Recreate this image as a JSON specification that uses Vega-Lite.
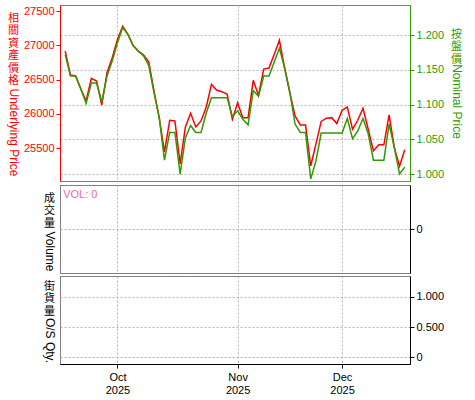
{
  "$schema": "https://vega.github.io/schema/vega-lite/v6.json",
  "padding": {"left": 6, "top": 4, "right": 5, "bottom": 2},
  "autosize": {"type": "pad"},
  "config": {
    "view": {"stroke": "black", "strokeDash": [1, 1], "strokeWidth": 1},
    "axis": {
      "labelFont": "Liberation Sans",
      "labelFontSize": 11,
      "titleFont": "Liberation Sans, 'Noto Sans CJK TC'",
      "titleFontSize": 12,
      "titleFontWeight": "normal",
      "gridColor": "#b4b4b4",
      "gridDash": [2, 2],
      "gridWidth": 1,
      "tickSize": 4,
      "labelPadding": 2,
      "labelColor": "black",
      "domainColor": "black",
      "tickColor": "black"
    }
  },
  "datasets": {
    "d": [
      {"date": "2025-09-17", "price": 26917, "nominal": 1.172, "vol": 0},
      {"date": "2025-09-18", "price": 26568, "nominal": 1.141, "vol": 0},
      {"date": "2025-09-19", "price": 26553, "nominal": 1.141, "vol": 0},
      {"date": "2025-09-22", "price": 26364, "nominal": 1.122, "vol": 0},
      {"date": "2025-09-23", "price": 26189, "nominal": 1.102, "vol": 0},
      {"date": "2025-09-24", "price": 26519, "nominal": 1.131, "vol": 0},
      {"date": "2025-09-25", "price": 26480, "nominal": 1.131, "vol": 0},
      {"date": "2025-09-26", "price": 26130, "nominal": 1.104, "vol": 0},
      {"date": "2025-09-29", "price": 26601, "nominal": 1.141, "vol": 0},
      {"date": "2025-09-30", "price": 26820, "nominal": 1.163, "vol": 0},
      {"date": "2025-10-01", "price": 27088, "nominal": 1.189, "vol": 0},
      {"date": "2025-10-02", "price": 27281, "nominal": 1.211, "vol": 0},
      {"date": "2025-10-03", "price": 27160, "nominal": 1.201, "vol": 0},
      {"date": "2025-10-06", "price": 26997, "nominal": 1.185, "vol": 0},
      {"date": "2025-10-07", "price": 26917, "nominal": 1.177, "vol": 0},
      {"date": "2025-10-08", "price": 26859, "nominal": 1.170, "vol": 0},
      {"date": "2025-10-09", "price": 26757, "nominal": 1.156, "vol": 0},
      {"date": "2025-10-10", "price": 26334, "nominal": 1.117, "vol": 0},
      {"date": "2025-10-13", "price": 25941, "nominal": 1.081, "vol": 0},
      {"date": "2025-10-14", "price": 25446, "nominal": 1.020, "vol": 0},
      {"date": "2025-10-15", "price": 25907, "nominal": 1.060, "vol": 0},
      {"date": "2025-10-16", "price": 25897, "nominal": 1.060, "vol": 0},
      {"date": "2025-10-17", "price": 25271, "nominal": 1.000, "vol": 0},
      {"date": "2025-10-20", "price": 25810, "nominal": 1.052, "vol": 0},
      {"date": "2025-10-21", "price": 26009, "nominal": 1.070, "vol": 0},
      {"date": "2025-10-22", "price": 25810, "nominal": 1.060, "vol": 0},
      {"date": "2025-10-23", "price": 25897, "nominal": 1.060, "vol": 0},
      {"date": "2025-10-24", "price": 26101, "nominal": 1.088, "vol": 0},
      {"date": "2025-10-27", "price": 26432, "nominal": 1.110, "vol": 0},
      {"date": "2025-10-28", "price": 26345, "nominal": 1.110, "vol": 0},
      {"date": "2025-10-29", "price": 26324, "nominal": 1.110, "vol": 0},
      {"date": "2025-10-30", "price": 26286, "nominal": 1.110, "vol": 0},
      {"date": "2025-10-31", "price": 25922, "nominal": 1.083, "vol": 0},
      {"date": "2025-11-03", "price": 26160, "nominal": 1.091, "vol": 0},
      {"date": "2025-11-04", "price": 25945, "nominal": 1.079, "vol": 0},
      {"date": "2025-11-05", "price": 25945, "nominal": 1.071, "vol": 0},
      {"date": "2025-11-06", "price": 26490, "nominal": 1.120, "vol": 0},
      {"date": "2025-11-07", "price": 26269, "nominal": 1.112, "vol": 0},
      {"date": "2025-11-10", "price": 26655, "nominal": 1.141, "vol": 0},
      {"date": "2025-11-11", "price": 26670, "nominal": 1.141, "vol": 0},
      {"date": "2025-11-12", "price": 26866, "nominal": 1.161, "vol": 0},
      {"date": "2025-11-13", "price": 27075, "nominal": 1.181, "vol": 0},
      {"date": "2025-11-14", "price": 26670, "nominal": 1.153, "vol": 0},
      {"date": "2025-11-17", "price": 26305, "nominal": 1.118, "vol": 0},
      {"date": "2025-11-18", "price": 25970, "nominal": 1.072, "vol": 0},
      {"date": "2025-11-19", "price": 25839, "nominal": 1.060, "vol": 0},
      {"date": "2025-11-20", "price": 25839, "nominal": 1.060, "vol": 0},
      {"date": "2025-11-21", "price": 25242, "nominal": 0.993, "vol": 0},
      {"date": "2025-11-24", "price": 25562, "nominal": 1.019, "vol": 0},
      {"date": "2025-11-25", "price": 25890, "nominal": 1.059, "vol": 0},
      {"date": "2025-11-26", "price": 25937, "nominal": 1.059, "vol": 0},
      {"date": "2025-11-27", "price": 25945, "nominal": 1.059, "vol": 0},
      {"date": "2025-11-28", "price": 25858, "nominal": 1.059, "vol": 0},
      {"date": "2025-12-01", "price": 26053, "nominal": 1.059, "vol": 0},
      {"date": "2025-12-02", "price": 26101, "nominal": 1.080, "vol": 0},
      {"date": "2025-12-03", "price": 25776, "nominal": 1.051, "vol": 0},
      {"date": "2025-12-04", "price": 25907, "nominal": 1.062, "vol": 0},
      {"date": "2025-12-05", "price": 26082, "nominal": 1.080, "vol": 0},
      {"date": "2025-12-08", "price": 25776, "nominal": 1.058, "vol": 0},
      {"date": "2025-12-09", "price": 25460, "nominal": 1.020, "vol": 0},
      {"date": "2025-12-10", "price": 25548, "nominal": 1.020, "vol": 0},
      {"date": "2025-12-11", "price": 25548, "nominal": 1.020, "vol": 0},
      {"date": "2025-12-12", "price": 25985, "nominal": 1.072, "vol": 0},
      {"date": "2025-12-15", "price": 25508, "nominal": 1.038, "vol": 0},
      {"date": "2025-12-16", "price": 25237, "nominal": 1.000, "vol": 0},
      {"date": "2025-12-17", "price": 25475, "nominal": 1.010, "vol": 0}
    ]
  },
  "spacing": 1,
  "resolve": {"scale": {"x": "independent", "y": "independent"}},
  "vconcat": [
    {
      "width": 350,
      "height": 176,
      "data": {"name": "d"},
      "encoding": {
        "x": {
          "field": "date", "type": "ordinal",
          "scale": {"type": "point", "padding": 1},
          "axis": {"values": ["2025-10-01", "2025-11-03", "2025-12-01"], "labels": false, "ticks": false, "domain": false, "title": null, "grid": true}
        }
      },
      "layer": [
        {
          "mark": {"type": "line", "color": "#ff0000", "strokeWidth": 1.5},
          "encoding": {
            "y": {
              "field": "price", "type": "quantitative",
              "scale": {"domain": [25020, 27590], "nice": false, "zero": false},
              "axis": {
                "orient": "left", "values": [25500, 26000, 26500, 27000, 27500], "format": "d",
                "grid": false, "domainColor": "#ff0000", "tickColor": "#ff0000", "labelColor": "#ff0000",
                "title": "Underlying Price", "titleColor": "#ff0000", "titleAngle": 90, "titleAlign": "center", "titleBaseline": "middle", "titleX": -47, "titleY": 127
              }
            }
          }
        },
        {
          "mark": {"type": "line", "color": "#ff0000", "strokeWidth": 1.5, "opacity": 0},
          "encoding": {
            "y": {
              "field": "price", "type": "quantitative",
              "scale": {"domain": [25020, 27590], "nice": false, "zero": false},
              "axis": {
                "orient": "left", "labels": false, "ticks": false, "domain": false, "grid": false,
                "title": ["相", "關", "資", "產", "價", "格"], "titleColor": "#ff0000", "titleAngle": 0, "titleAlign": "center", "titleBaseline": "top", "titleFontSize": 11, "titleLineHeight": 12.5, "titleX": -47, "titleY": 7
              }
            }
          }
        },
        {
          "mark": {"type": "line", "color": "#339900", "strokeWidth": 1.5},
          "encoding": {
            "y": {
              "field": "nominal", "type": "quantitative",
              "scale": {"domain": [0.99, 1.2434], "nice": false, "zero": false},
              "axis": {
                "orient": "right", "values": [1.0, 1.05, 1.1, 1.15, 1.2], "format": ".3f",
                "grid": true, "domainColor": "#339900", "tickColor": "#339900", "labelColor": "#339900",
                "title": "Nominal Price", "titleColor": "#339900", "titleAngle": 90, "titleAlign": "center", "titleBaseline": "middle", "titleX": 46, "titleY": 96
              }
            }
          }
        },
        {
          "mark": {"type": "line", "color": "#339900", "strokeWidth": 1.5, "opacity": 0},
          "encoding": {
            "y": {
              "field": "nominal", "type": "quantitative",
              "scale": {"domain": [0.99, 1.2434], "nice": false, "zero": false},
              "axis": {
                "orient": "right", "labels": false, "ticks": false, "domain": false, "grid": false,
                "title": ["按", "盤", "價"], "titleColor": "#339900", "titleAngle": 0, "titleAlign": "center", "titleBaseline": "top", "titleFontSize": 11, "titleLineHeight": 12.5, "titleX": 46, "titleY": 23
              }
            }
          }
        }
      ],
      "resolve": {"scale": {"y": "independent"}}
    },
    {
      "width": 350,
      "height": 88,
      "data": {"name": "d"},
      "encoding": {
        "x": {
          "field": "date", "type": "ordinal",
          "scale": {"type": "point", "padding": 1},
          "axis": {"values": ["2025-10-01", "2025-11-03", "2025-12-01"], "labels": false, "ticks": false, "domain": false, "title": null, "grid": true}
        }
      },
      "layer": [
        {
          "mark": {"type": "point", "opacity": 0},
          "encoding": {
            "y": {
              "field": "vol", "type": "quantitative",
              "scale": {"domain": [-1, 1], "nice": false, "zero": false},
              "axis": {"orient": "left", "labels": false, "ticks": false, "domain": false, "grid": false, "title": "Volume", "titleAngle": 90, "titleAlign": "center", "titleBaseline": "middle", "titleX": -11, "titleY": 66}
            }
          }
        },
        {
          "mark": {"type": "point", "opacity": 0},
          "encoding": {
            "y": {
              "field": "vol", "type": "quantitative",
              "scale": {"domain": [-1, 1], "nice": false, "zero": false},
              "axis": {"orient": "left", "labels": false, "ticks": false, "domain": false, "grid": false, "title": ["成", "交", "量"], "titleAngle": 0, "titleAlign": "center", "titleBaseline": "top", "titleFontSize": 11, "titleLineHeight": 12.5, "titleX": -11, "titleY": 7}
            }
          }
        },
        {
          "mark": {"type": "point", "opacity": 0},
          "encoding": {
            "y": {
              "field": "vol", "type": "quantitative",
              "scale": {"domain": [-1, 1], "nice": false, "zero": false},
              "axis": {"orient": "right", "values": [0], "format": "d", "grid": true, "title": null}
            }
          }
        },
        {
          "transform": [{"filter": "datum.date == '2025-09-17'"}],
          "mark": {"type": "text", "align": "left", "baseline": "middle", "dx": -2, "color": "#ee6aa7", "font": "Liberation Sans", "fontSize": 11},
          "encoding": {
            "y": {"datum": 0.77, "type": "quantitative", "scale": {"domain": [-1, 1], "nice": false, "zero": false}, "axis": null},
            "text": {"value": "VOL: 0"}
          }
        }
      ],
      "resolve": {"axis": {"y": "independent"}}
    },
    {
      "width": 350,
      "height": 88,
      "data": {"name": "d"},
      "encoding": {
        "x": {
          "field": "date", "type": "ordinal",
          "scale": {"type": "point", "padding": 1},
          "axis": {
            "values": ["2025-10-01", "2025-11-03", "2025-12-01"],
            "labelExpr": "[utcFormat(toDate(datum.value), '%b'), utcFormat(toDate(datum.value), '%Y')]",
            "labelAngle": 0, "labelLineHeight": 13, "labelPadding": 3, "title": null, "grid": true
          }
        }
      },
      "layer": [
        {
          "mark": {"type": "point", "opacity": 0},
          "encoding": {
            "y": {
              "field": "vol", "type": "quantitative",
              "scale": {"domain": [-0.11, 1.344], "nice": false, "zero": false},
              "axis": {"orient": "left", "labels": false, "ticks": false, "domain": false, "grid": false, "title": "O/S Qty.", "titleAngle": 90, "titleAlign": "center", "titleBaseline": "middle", "titleX": -11, "titleY": 64}
            }
          }
        },
        {
          "mark": {"type": "point", "opacity": 0},
          "encoding": {
            "y": {
              "field": "vol", "type": "quantitative",
              "scale": {"domain": [-0.11, 1.344], "nice": false, "zero": false},
              "axis": {"orient": "left", "labels": false, "ticks": false, "domain": false, "grid": false, "title": ["街", "貨", "量"], "titleAngle": 0, "titleAlign": "center", "titleBaseline": "top", "titleFontSize": 11, "titleLineHeight": 12.5, "titleX": -11, "titleY": 4}
            }
          }
        },
        {
          "mark": {"type": "point", "opacity": 0},
          "encoding": {
            "y": {
              "field": "vol", "type": "quantitative",
              "scale": {"domain": [-0.11, 1.344], "nice": false, "zero": false},
              "axis": {"orient": "right", "values": [0, 0.5, 1], "labelExpr": "datum.value == 0 ? '0' : format(datum.value, '.3f')", "grid": true, "title": null}
            }
          }
        }
      ],
      "resolve": {"axis": {"y": "independent"}}
    }
  ]
}
